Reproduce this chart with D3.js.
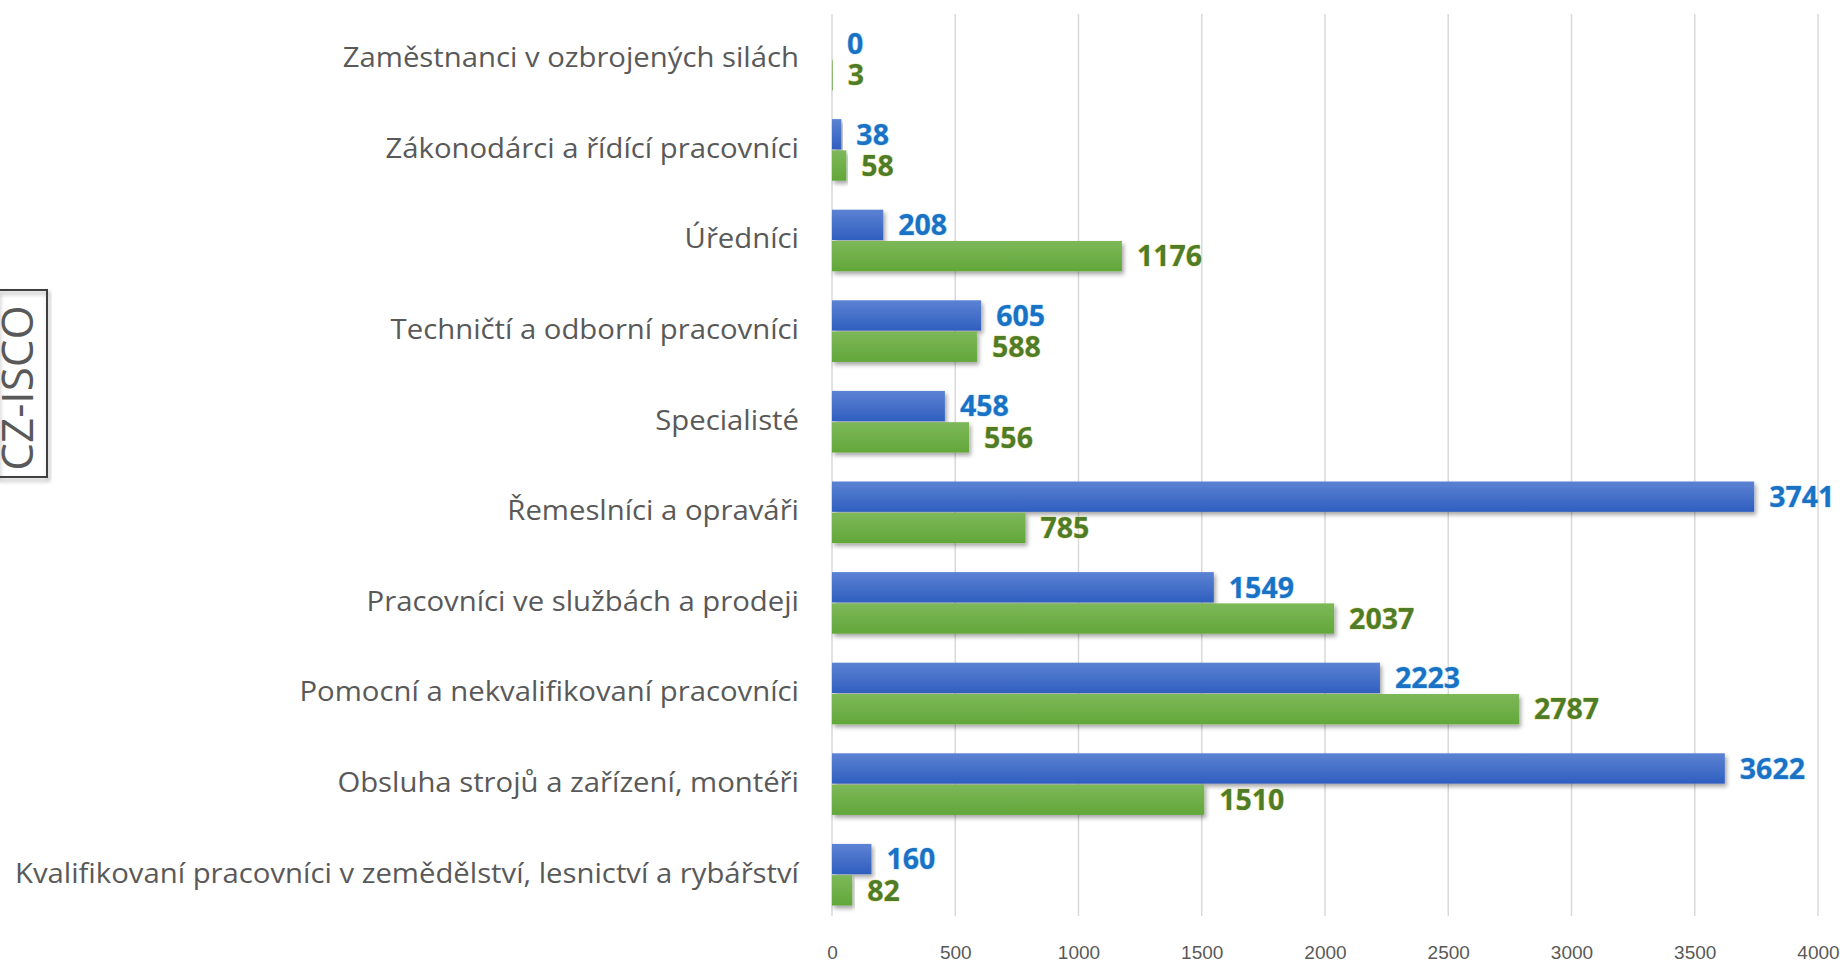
<!DOCTYPE html>
<html>
<head>
<meta charset="utf-8">
<script src="https://cdn.jsdelivr.net/npm/d3@7"></script>
<style>
  body { margin: 0; background: #fff; }
  svg { display: block; font-family: "Open Sans", sans-serif; }
  .cat { fill: #595959; font-size: 28px; }
  .tick-lbl { fill: #595959; font-size: 19px; }
  .val { font-size: 28.5px; font-weight: 700; paint-order: stroke; stroke-width: 1.2px; }
  .val.blue { fill: #1a72c4; stroke: rgba(130,200,255,0.55); }
  .val.green { fill: #4f7c28; stroke: rgba(220,210,90,0.6); }
</style>
</head>
<body>
<div id="chart"></div>
<script>
// kategorie CZ-ISCO, shora dolu
var categories = [
  "Zaměstnanci v ozbrojených silách",
  "Zákonodárci a řídící pracovníci",
  "Úředníci",
  "Techničtí a odborní pracovníci",
  "Specialisté",
  "Řemeslníci a opraváři",
  "Pracovníci ve službách a prodeji",
  "Pomocní a nekvalifikovaní pracovníci",
  "Obsluha strojů a zařízení, montéři",
  "Kvalifikovaní pracovníci v zemědělství, lesnictví a rybářství"
];
var blueValues  = [0, 38, 208, 605, 458, 3741, 1549, 2223, 3622, 160];
var greenValues = [3, 58, 1176, 588, 556, 785, 2037, 2787, 1510, 82];
var xTicks = [0, 500, 1000, 1500, 2000, 2500, 3000, 3500, 4000];
var axisTitle = "CZ-ISCO";

var W = 1842, H = 966;

var svg = d3.select("#chart").append("svg")
  .attr("width", W)
  .attr("height", H);

var defs = svg.append("defs");

var gBlue = defs.append("linearGradient").attr("id", "gBlue")
  .attr("x1", 0).attr("y1", 0).attr("x2", 0).attr("y2", 1);
gBlue.append("stop").attr("offset", "0%").attr("stop-color", "#5c82d3");
gBlue.append("stop").attr("offset", "100%").attr("stop-color", "#2f5fbf");

var gGreen = defs.append("linearGradient").attr("id", "gGreen")
  .attr("x1", 0).attr("y1", 0).attr("x2", 0).attr("y2", 1);
gGreen.append("stop").attr("offset", "0%").attr("stop-color", "#7db859");
gGreen.append("stop").attr("offset", "100%").attr("stop-color", "#62a73a");

var shadow = defs.append("filter").attr("id", "shadow")
  .attr("x", "-5%").attr("y", "-30%").attr("width", "115%").attr("height", "180%");
shadow.append("feDropShadow")
  .attr("dx", 2).attr("dy", 3).attr("stdDeviation", 2.2)
  .attr("flood-color", "#000").attr("flood-opacity", 0.35);

var x = d3.scaleLinear()
  .domain([0, 4000])
  .range([832, 1818]);

var y = d3.scaleBand()
  .domain(categories)
  .range([14, 920]);

var bw = y.bandwidth();
var y1 = d3.scaleBand()
  .domain(["blue", "green"])
  .range([bw * 0.16, bw * 0.84])
  .paddingInner(0.03);

// mrizka
svg.append("g").selectAll("line")
  .data(xTicks)
  .enter().append("line")
    .attr("x1", function(d) { return x(d); })
    .attr("x2", function(d) { return x(d); })
    .attr("y1", 14)
    .attr("y2", 916)
    .attr("stroke", "#d9d9d9")
    .attr("stroke-width", 1.5);

// popisky osy x
var xAxis = d3.axisBottom(x)
  .tickValues(xTicks)
  .tickFormat(d3.format("d"))
  .tickSize(0)
  .tickPadding(0);

var ax = svg.append("g")
  .attr("transform", "translate(0,945)")
  .call(xAxis);
ax.select(".domain").remove();
ax.selectAll("text")
  .attr("class", "tick-lbl")
  .attr("font-family", null)
  .attr("font-size", null)
  .attr("fill", null)
  .attr("dy", "0.75em");

var series = [
  { key: "blue", values: blueValues, fill: "url(#gBlue)" },
  { key: "green", values: greenValues, fill: "url(#gGreen)" }
];

var rows = svg.append("g").selectAll("g")
  .data(categories)
  .enter().append("g")
    .attr("transform", function(d) { return "translate(0," + y(d) + ")"; });

series.forEach(function(s) {
  rows.append("rect")
    .attr("x", x(0))
    .attr("y", y1(s.key))
    .attr("height", y1.bandwidth())
    .attr("width", function(d, i) { return x(s.values[i]) - x(0); })
    .attr("fill", s.fill)
    .attr("filter", function(d, i) { return s.values[i] > 0 ? "url(#shadow)" : null; });

  rows.append("text")
    .attr("class", "val " + s.key)
    .attr("x", function(d, i) { return x(s.values[i]) + 15; })
    .attr("y", y1(s.key) + y1.bandwidth() / 2)
    .attr("dy", "0.36em")
    .text(function(d, i) { return s.values[i]; });
});

// popisky kategorii
var labels = rows.append("text")
  .attr("class", "cat")
  .attr("x", 799)
  .attr("y", bw / 2 + 8)
  .attr("text-anchor", "end")
  .text(function(d) { return d; });

// nejdelsi popisek ma v predloze sirku asi 784 px
var longest = d3.max(labels.nodes(), function(n) { return n.getComputedTextLength(); });
var stretch = 784 / longest;
labels.each(function() {
  var len = this.getComputedTextLength();
  d3.select(this)
    .attr("textLength", len * stretch)
    .attr("lengthAdjust", "spacingAndGlyphs");
});

// nazev osy v ramecku
svg.append("rect")
  .attr("x", -3)
  .attr("y", 290)
  .attr("width", 50)
  .attr("height", 187)
  .attr("fill", "none")
  .attr("stroke", "#3f3f3f")
  .attr("stroke-width", 2)
  .attr("filter", "url(#shadow)");

svg.append("text")
  .attr("transform", "translate(33,388) rotate(-90)")
  .attr("text-anchor", "middle")
  .attr("fill", "#595959")
  .style("font-size", "44px")
  .text(axisTitle);
</script>
</body>
</html>
